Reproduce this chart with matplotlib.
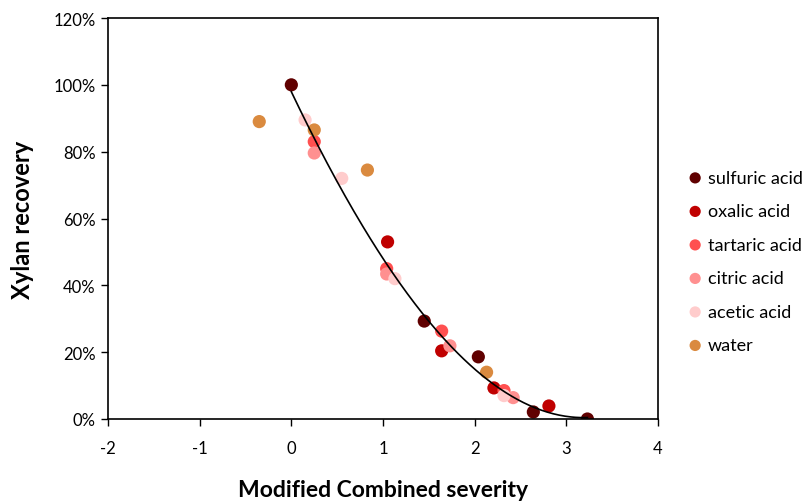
import numpy as np
import matplotlib
matplotlib.use("Agg")
import matplotlib.pyplot as plt
from matplotlib.ticker import FuncFormatter

plt.rcParams['font.family'] = ['Lato', 'DejaVu Sans']
plt.rcParams['axes.unicode_minus'] = False

series_names = ["sulfuric acid", "oxalic acid", "tartaric acid", "citric acid", "acetic acid", "water"]
series_colors = ["#600000", "#C00000", "#FF5050", "#FF9090", "#FFCCCC", "#DA8A3F"]

sulfuric_x = [0.00, 1.45, 2.04, 2.64, 3.23]
sulfuric_y = [1.00, 0.293, 0.186, 0.021, 0.000]
oxalic_x = [1.05, 1.64, 2.21, 2.81]
oxalic_y = [0.53, 0.204, 0.093, 0.039]
tartaric_x = [0.25, 1.04, 1.64, 2.32]
tartaric_y = [0.83, 0.45, 0.263, 0.085]
citric_x = [0.25, 1.04, 1.73, 2.42]
citric_y = [0.796, 0.434, 0.219, 0.064]
acetic_x = [0.15, 0.55, 1.13, 2.32]
acetic_y = [0.895, 0.72, 0.42, 0.07]
water_x = [-0.35, 0.25, 0.83, 2.13]
water_y = [0.89, 0.865, 0.745, 0.14]

xs = [sulfuric_x, oxalic_x, tartaric_x, citric_x, acetic_x, water_x]
ys = [sulfuric_y, oxalic_y, tartaric_y, citric_y, acetic_y, water_y]

fig = plt.figure(figsize=(8.04, 5.02), dpi=100)
ax = fig.add_axes([108/804, 82/502, 550/804, 401/502])

# trendline: polynomial fit over acid-catalysed points
acid_x = np.concatenate([np.array(v) for v in xs[:5]])
acid_y = np.concatenate([np.array(v) for v in ys[:5]])
coef = np.polyfit(acid_x, acid_y, 3)
tx = np.linspace(acid_x.min(), acid_x.max(), 200)
ax.plot(tx, np.polyval(coef, tx), color="black", lw=1.2, zorder=3)

for name, col, x, y in zip(series_names, series_colors, xs, ys):
    ax.scatter(x, y, s=90, color=col, label=name, zorder=2, edgecolors='none')

ax.set_xlim(-2, 4)
ax.set_ylim(0, 1.2)
ax.set_xticks(range(-2, 5))
ax.set_yticks(np.arange(0, 1.21, 0.2))
ax.yaxis.set_major_formatter(FuncFormatter(lambda v, p: f"{v*100:.0f}%"))
ax.tick_params(direction='out', length=5, width=1, labelsize=12, colors='black', pad=4)
ax.tick_params(axis='x', pad=10)
for s in ax.spines.values():
    s.set_linewidth(1.2)

ax.set_xlabel("Modified Combined severity", fontsize=16.5, fontweight='bold', labelpad=17)
ax.set_ylabel("Xylan recovery", fontsize=17, fontweight='bold', labelpad=14)

leg = ax.legend(loc='center left', bbox_to_anchor=(1.038, 0.393), frameon=False,
                fontsize=13, handletextpad=0.2, handlelength=1.0, labelspacing=0.97,
                markerscale=0.85, borderaxespad=0)

fig.savefig("out.png", dpi=100)
